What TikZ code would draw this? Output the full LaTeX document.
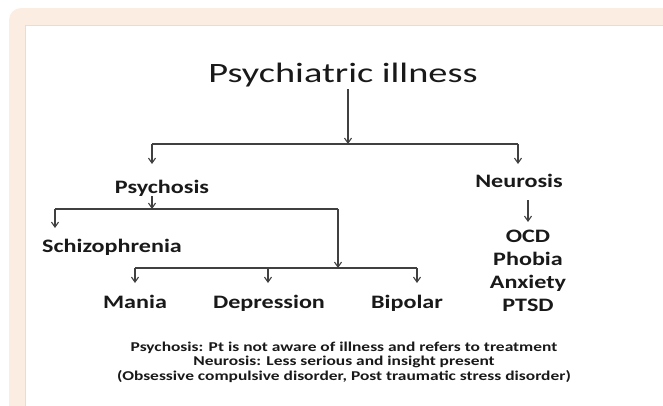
\documentclass[tikz,border=0pt]{standalone}
\usepackage{fontspec}
\setmainfont{Carlito}
\newfontfamily\titlefont[FakeStretch=1.37]{Carlito}
\newfontfamily\labelfont[FakeStretch=1.27]{Carlito}
\newfontfamily\notefont[FakeStretch=1.29]{Carlito}
\usepackage{tikz}
\usetikzlibrary{arrows.meta}
\definecolor{peach}{RGB}{252,237,226}
\definecolor{rim}{RGB}{226,222,219}
\tikzstyle{heading} = [inner sep=0pt, anchor=base, text=black!90, font=\titlefont\fontsize{28}{32}\selectfont]
\tikzstyle{group} = [inner sep=0pt, anchor=base, align=center, text=black!90, font=\labelfont\fontsize{19}{23}\selectfont\bfseries]
\tikzstyle{note} = [inner sep=0pt, anchor=base, align=center, text=black!90, font=\notefont\fontsize{13.5}{14.3}\selectfont\bfseries]
\tikzstyle{bar} = [line width=1.1pt, draw=black!75]
\tikzstyle{edge} = [bar, ->, >={Straight Barb[length=5pt, width=7pt]}]

\begin{document}
\begin{tikzpicture}[x=1pt, y=-1pt]

\useasboundingbox (0,0) rectangle (663,405);
\begin{scope}
\clip (0,0) rectangle (663,405);
\fill [peach, rounded corners=12pt] (9,8) rectangle (720,460);
\fill [white] (25,25) rectangle (720,460);
\draw [rim, line width=0.8pt] (25,460) -- (25,25) -- (720,25);
\end{scope}

\node (0) [heading] at (343,82) {Psychiatric illness};
\node (1) [group] at (162,193) {Psychosis};
\node (2) [group] at (519,187) {Neurosis};
\node (3) [group] at (112,252) {Schizophrenia};
\node (4) [group] at (135,308) {Mania};
\node (5) [group] at (269,308) {Depression};
\node (6) [group] at (407,308) {Bipolar};
\node (7) [group] at (528,311) {OCD\\Phobia\\Anxiety\\PTSD};
\node (8) [note] at (344,380) {Psychosis: Pt is not aware of illness and refers to treatment\\Neurosis: Less serious and insight present\\(Obsessive compulsive disorder, Post traumatic stress disorder)};

\coordinate (a0) at (348,89);
\coordinate (a1) at (348,144);
\coordinate (b1) at (152,144);
\coordinate (b2) at (518,144);
\coordinate (c1) at (152,164);
\coordinate (c2) at (518,164);
\coordinate (d0) at (152,196);
\coordinate (d1) at (152,209);
\coordinate (e1) at (55,209);
\coordinate (e2) at (338,209);
\coordinate (f1) at (55,228);
\coordinate (f2) at (338,268);
\coordinate (g1) at (135,268);
\coordinate (g2) at (268,268);
\coordinate (g3) at (417,268);
\coordinate (h1) at (135,283);
\coordinate (h2) at (268,283);
\coordinate (h3) at (417,283);
\coordinate (n0) at (528,200);
\coordinate (n1) at (528,222);

\draw [edge] (a0) -- (a1);
\draw [bar] (b1) -- (b2);
\draw [edge] (b1) -- (c1);
\draw [edge] (b2) -- (c2);
\draw [edge] (d0) -- (d1);
\draw [bar] (e1) -- (e2);
\draw [edge] (e1) -- (f1);
\draw [edge] (e2) -- (f2);
\draw [bar] (g1) -- (g3);
\draw [edge] (g1) -- (h1);
\draw [edge] (g2) -- (h2);
\draw [edge] (g3) -- (h3);
\draw [edge] (n0) -- (n1);

\end{tikzpicture}
\end{document}
